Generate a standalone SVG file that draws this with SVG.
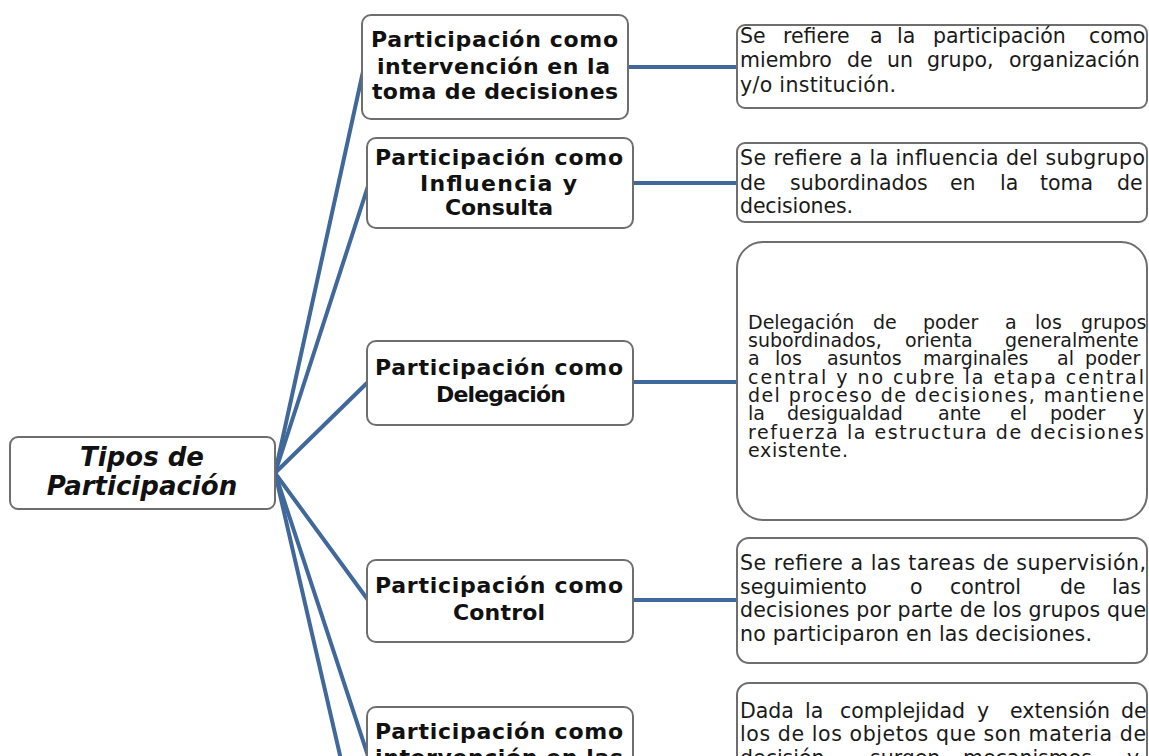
<svg xmlns="http://www.w3.org/2000/svg" width="1149" height="756" viewBox="0 0 1149 756">
<style>
.box{fill:#fff;stroke:#6e6e6e;stroke-width:2}
.con{stroke:#41689a;stroke-width:4;fill:none;stroke-linecap:round}
.nt{font-family:"DejaVu Sans",Verdana,sans-serif;font-weight:bold;font-size:22px;fill:#111}
.dt{font-family:"DejaVu Sans",Verdana,sans-serif;font-size:20.5px;fill:#1a1a1a}
.d3{font-size:19px}
.rt{font-family:"DejaVu Sans",Verdana,sans-serif;font-weight:bold;font-style:italic;font-size:26px;fill:#111}
</style>
<rect width="1149" height="756" fill="#fff"/>
<g id="connectors">
<line class="con" x1="275" y1="473" x2="364" y2="67"/>
<line class="con" x1="275" y1="473" x2="369" y2="183"/>
<line class="con" x1="275" y1="473" x2="368" y2="382"/>
<line class="con" x1="275" y1="473" x2="368" y2="600"/>
<line class="con" x1="275" y1="473" x2="370" y2="762"/>
<line class="con" x1="275" y1="473" x2="348" y2="790"/>
<line class="con" x1="628" y1="67" x2="737" y2="67"/>
<line class="con" x1="633" y1="183" x2="737" y2="183"/>
<line class="con" x1="633" y1="382" x2="737" y2="382"/>
<line class="con" x1="633" y1="600" x2="737" y2="600"/>
<line class="con" x1="633" y1="760" x2="737" y2="760"/>
</g>
<g id="root">
<rect class="box" x="10" y="437" width="265" height="72" rx="8"/>
<text class="rt" x="142" y="466" text-anchor="middle">Tipos de</text>
<text class="rt" x="142" y="495" text-anchor="middle">Participación</text>
</g>
<g id="n1">
<rect class="box" x="362" y="15" width="266" height="104" rx="9"/>
<text class="nt" x="371" y="47" textLength="247" lengthAdjust="spacing">Participación  como</text>
<text class="nt" x="377" y="74" textLength="233" lengthAdjust="spacing">intervención  en la</text>
<text class="nt" x="372" y="99" textLength="246" lengthAdjust="spacing">toma de decisiones</text>
</g>
<g id="n2">
<rect class="box" x="367" y="138" width="266" height="90" rx="9"/>
<text class="nt" x="375" y="165" textLength="248" lengthAdjust="spacing">Participación  como</text>
<text class="nt" x="420" y="191" textLength="157" lengthAdjust="spacing">Influencia  y</text>
<text class="nt" x="445" y="215" textLength="108" lengthAdjust="spacing">Consulta</text>
</g>
<g id="n3">
<rect class="box" x="367" y="341" width="266" height="84" rx="9"/>
<text class="nt" x="375" y="375" textLength="248" lengthAdjust="spacing">Participación  como</text>
<text class="nt" x="436" y="402" textLength="130" lengthAdjust="spacing">Delegación</text>
</g>
<g id="n4">
<rect class="box" x="367" y="560" width="266" height="82" rx="9"/>
<text class="nt" x="375" y="593" textLength="248" lengthAdjust="spacing">Participación  como</text>
<text class="nt" x="453" y="620" textLength="92" lengthAdjust="spacing">Control</text>
</g>
<g id="n5">
<rect class="box" x="367" y="707" width="266" height="100" rx="9"/>
<text class="nt" x="375" y="739" textLength="248" lengthAdjust="spacing">Participación  como</text>
<text class="nt" x="375" y="765" textLength="248" lengthAdjust="spacing">intervención  en las</text>
</g>
<g id="d1">
<rect class="box" x="737" y="25" width="410" height="83" rx="8"/>
<text class="dt" y="43"><tspan x="740">Se</tspan><tspan x="783">refiere</tspan><tspan x="870">a</tspan><tspan x="897">la</tspan><tspan x="933">participación</tspan><tspan x="1089">como</tspan></text>
<text class="dt" y="67"><tspan x="740">miembro</tspan><tspan x="847">de</tspan><tspan x="887">un</tspan><tspan x="927">grupo,</tspan><tspan x="1009">organización</tspan></text>
<text class="dt" x="740" y="92" textLength="156" lengthAdjust="spacing">y/o institución.</text>
</g>
<g id="d2">
<rect class="box" x="737" y="143" width="410" height="79" rx="8"/>
<text class="dt" x="740" y="165" textLength="405" lengthAdjust="spacing">Se refiere a la influencia del subgrupo</text>
<text class="dt" y="190"><tspan x="740">de</tspan><tspan x="790">subordinados</tspan><tspan x="950">en</tspan><tspan x="1000">la</tspan><tspan x="1040">toma</tspan><tspan x="1117">de</tspan></text>
<text class="dt" x="740" y="213" textLength="113" lengthAdjust="spacing">decisiones.</text>
</g>
<g id="d3">
<rect class="box" x="737" y="242" width="410" height="278" rx="26"/>
<text class="dt d3" y="329"><tspan x="748">Delegación</tspan><tspan x="873">de</tspan><tspan x="923">poder</tspan><tspan x="1005">a</tspan><tspan x="1035">los</tspan><tspan x="1081">grupos</tspan></text>
<text class="dt d3" y="347"><tspan x="748">subordinados,</tspan><tspan x="905">orienta</tspan><tspan x="1005">generalmente</tspan></text>
<text class="dt d3" y="365"><tspan x="748">a</tspan><tspan x="775">los</tspan><tspan x="827">asuntos</tspan><tspan x="923">marginales</tspan><tspan x="1057">al</tspan><tspan x="1085">poder</tspan></text>
<text class="dt d3" x="748" y="384" textLength="396" lengthAdjust="spacing">central y no cubre la etapa central</text>
<text class="dt d3" x="748" y="402" textLength="396" lengthAdjust="spacing">del proceso de decisiones, mantiene</text>
<text class="dt d3" y="420"><tspan x="748">la</tspan><tspan x="787">desigualdad</tspan><tspan x="938">ante</tspan><tspan x="1010">el</tspan><tspan x="1050">poder</tspan><tspan x="1133">y</tspan></text>
<text class="dt d3" x="748" y="439" textLength="396" lengthAdjust="spacing">refuerza la estructura de decisiones</text>
<text class="dt d3" x="748" y="457" textLength="100" lengthAdjust="spacing">existente.</text>
</g>
<g id="d4">
<rect class="box" x="737" y="538" width="410" height="125" rx="12"/>
<text class="dt" x="740" y="570" textLength="406" lengthAdjust="spacing">Se refiere a las tareas de supervisión,</text>
<text class="dt" y="594"><tspan x="740">seguimiento</tspan><tspan x="910">o</tspan><tspan x="950">control</tspan><tspan x="1060">de</tspan><tspan x="1112">las</tspan></text>
<text class="dt" x="740" y="617" textLength="406" lengthAdjust="spacing">decisiones por parte de los grupos que</text>
<text class="dt" x="740" y="641" textLength="352" lengthAdjust="spacing">no participaron  en las decisiones.</text>
</g>
<g id="d5">
<rect class="box" x="737" y="683" width="410" height="120" rx="12"/>
<text class="dt" y="718"><tspan x="740">Dada</tspan><tspan x="805">la</tspan><tspan x="840">complejidad</tspan><tspan x="977">y</tspan><tspan x="1010">extensión</tspan><tspan x="1121">de</tspan></text>
<text class="dt" x="740" y="741" textLength="406" lengthAdjust="spacing">los de los objetos que son materia de</text>
<text class="dt" y="765"><tspan x="740">decisión</tspan><tspan x="870">surgen</tspan><tspan x="963">mecanismos</tspan><tspan x="1127">y</tspan></text>
</g>
</svg>
